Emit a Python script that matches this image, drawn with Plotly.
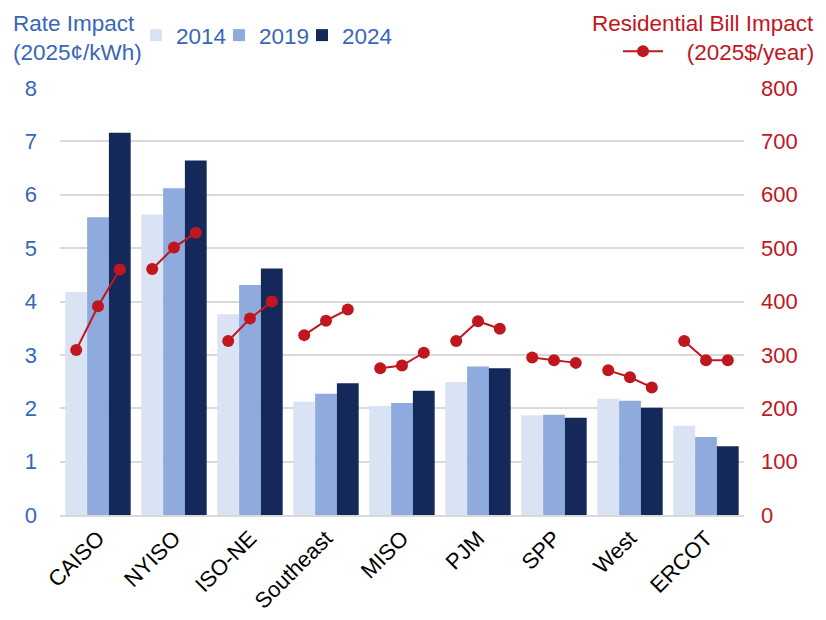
import plotly.graph_objects as go

categories = ["CAISO", "NYISO", "ISO-NE", "Southeast", "MISO", "PJM", "SPP", "West", "ERCOT"]
years = ["2014", "2019", "2024"]
rate_2014 = [4.18, 5.63, 3.76, 2.12, 2.04, 2.49, 1.87, 2.18, 1.67]
rate_2019 = [5.58, 6.12, 4.31, 2.27, 2.10, 2.78, 1.88, 2.14, 1.46]
rate_2024 = [7.16, 6.64, 4.62, 2.47, 2.33, 2.75, 1.82, 2.01, 1.29]
bill_2014 = [309, 461, 326, 337, 275, 326, 295, 271, 326]
bill_2019 = [391, 501, 368, 364, 280, 363, 290, 258, 290]
bill_2024 = [460, 529, 400, 385, 304, 349, 285, 239, 290]
left_ticks = [0, 1, 2, 3, 4, 5, 6, 7, 8]
right_ticks = [0, 100, 200, 300, 400, 500, 600, 700, 800]

bar_colors = ["#DAE3F3", "#8FAADC", "#14295A"]
red = "#C0171F"
blue = "#3A66B8"
font = "Liberation Sans, Arial, sans-serif"
bargap = 0.14

fig = go.Figure()
xs = list(range(len(categories)))
bar_legends = ["legend", "legend3", "legend4"]
for yr, vals, col, lg in zip(years, [rate_2014, rate_2019, rate_2024], bar_colors, bar_legends):
    fig.add_trace(go.Bar(x=xs, y=vals, name=yr, marker=dict(color=col, line=dict(width=0)),
                         legend=lg, showlegend=True))

bw = (1 - bargap) / 3
for i, cat in enumerate(categories):
    vals = [bill_2014[i], bill_2019[i], bill_2024[i]]
    fig.add_trace(go.Scatter(
        x=[i + (k - 1) * bw for k in range(3)], y=vals, yaxis="y2",
        mode="lines+markers", line=dict(color=red, width=2),
        marker=dict(color=red, size=12), name="\u00a0\u00a0\u00a0(2025$/year)",
        showlegend=(i == 0), legend="legend2"))

def bar_legend(xpix):
    return dict(orientation="h", xref="container", yref="container", x=xpix / 826,
                y=1 - 14 / 620, xanchor="left", yanchor="top",
                font=dict(size=22.5, color=blue), itemwidth=30,
                bgcolor="rgba(0,0,0,0)")

fig.update_layout(
    width=826, height=620, showlegend=True,
    margin=dict(l=60, r=82, t=88, b=105, autoexpand=False),
    paper_bgcolor="white", plot_bgcolor="white",
    barmode="group", bargap=bargap, bargroupgap=0,
    font=dict(family=font),
    xaxis=dict(range=[-0.5, 8.5], tickvals=xs, ticktext=categories, tickangle=-45,
               tickfont=dict(size=22, color="black"), showgrid=False, zeroline=False,
               showline=True, linecolor="#D9D9D9", linewidth=1.5, ticks="",
               automargin=False),
    yaxis=dict(range=[0, 8], tickvals=left_ticks, tickfont=dict(size=22, color=blue),
               showgrid=True, gridcolor="#D9D9D9", gridwidth=1.5, zeroline=False,
               ticklabelstandoff=22, automargin=False),
    yaxis2=dict(range=[0, 800], tickvals=right_ticks, overlaying="y", side="right",
                tickfont=dict(size=22, color=red), showgrid=False, zeroline=False,
                ticklabelstandoff=16, automargin=False),
    legend=bar_legend(136),
    legend3=bar_legend(219),
    legend4=bar_legend(302),
    legend2=dict(orientation="h", xref="container", yref="container", x=1 - 6 / 826,
                 y=1 - 30 / 620, xanchor="right", yanchor="top",
                 font=dict(size=22.5, color=red), itemwidth=40, bgcolor="rgba(0,0,0,0)"),
    annotations=[
        dict(text="Rate Impact<br>(2025¢/kWh)", xref="paper", yref="paper",
             x=0, xshift=-49, y=1, yshift=79, xanchor="left", yanchor="top",
             align="left", showarrow=False, font=dict(size=22.5, color=blue, family=font)),
        dict(text="Residential Bill Impact", xref="paper", yref="paper",
             x=1, xshift=72, y=1, yshift=79, xanchor="right", yanchor="top",
             align="right", showarrow=False, font=dict(size=22.5, color=red, family=font)),
    ],
)

fig.write_html("out.html")
